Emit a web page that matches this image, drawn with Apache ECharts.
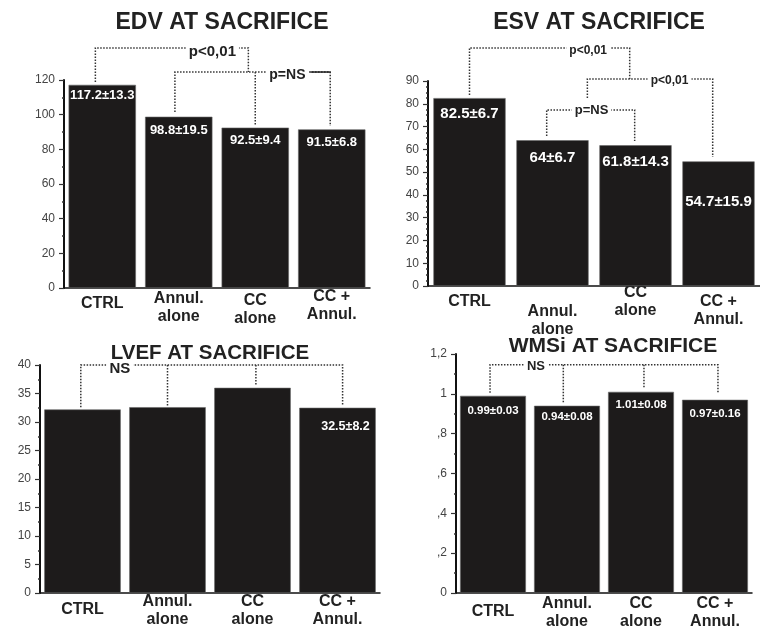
<!DOCTYPE html>
<html>
<head>
<meta charset="utf-8">
<script src="https://cdn.jsdelivr.net/npm/echarts@6/dist/echarts.min.js"></script>
<style>
html, body { margin: 0; padding: 0; background: #fff; }
#main { width: 760px; height: 635px; }
</style>
</head>
<body>
<div id="main"></div>
<script>
// groups, same order in every panel
var categories = ['CTRL', 'Annul.\nalone', 'CC\nalone', 'CC +\nAnnul.'];

// EDV at sacrifice
var edvValues = [117.2, 98.8, 92.5, 91.5];
var edvLabels = ['117.2±13.3', '98.8±19.5', '92.5±9.4', '91.5±6.8'];
// ESV at sacrifice
var esvValues = [82.5, 64, 61.8, 54.7];
var esvLabels = ['82.5±6.7', '64±6.7', '61.8±14.3', '54.7±15.9'];
// LVEF at sacrifice (only the last bar is labelled)
var lvefValues = [32.2, 32.6, 36.0, 32.5];
var lvefLabels = ['', '', '', '32.5±8.2'];
// WMSi at sacrifice
var wmsiValues = [0.99, 0.94, 1.01, 0.97];
var wmsiLabels = ['0.99±0.03', '0.94±0.08', '1.01±0.08', '0.97±0.16'];

var titles = ['EDV AT SACRIFICE', 'ESV AT SACRIFICE', 'LVEF AT SACRIFICE', 'WMSi AT SACRIFICE'];

// significance brackets, in (category position, value) of each panel
var brackets = [
	{grid: 0, paths: [[[-0.09, 118.8], [-0.09, 138.5], [1.91, 138.5], [1.91, 124.6]]], text: 'p<0,01', at: [1.44, 136.2], size: 15},
	{grid: 0, paths: [[[0.95, 101.6], [0.95, 124.6], [2.98, 124.6], [2.98, 93.5]], [[2.0, 124.6], [2.0, 93.5]]],
		text: 'p=NS', at: [2.42, 122.9], size: 14, solid: [[2.72, 124.6], [2.98, 124.6]]},
	{grid: 1, paths: [[[0, 83.8], [0, 104.5], [1.93, 104.5], [1.93, 90.9]]], text: 'p<0,01', at: [1.43, 103.2], size: 12},
	{grid: 1, paths: [[[1.42, 82.5], [1.42, 90.9], [2.93, 90.9], [2.93, 56.6]]], text: 'p<0,01', at: [2.41, 90.3], size: 12},
	{grid: 1, paths: [[[0.93, 65.8], [0.93, 77.3], [1.99, 77.3], [1.99, 63.7]]], text: 'p=NS', at: [1.47, 77], size: 13},
	{grid: 2, paths: [[[-0.02, 32.6], [-0.02, 40], [3.06, 40], [3.06, 32.8]], [[1.0, 40], [1.0, 32.8]], [[2.04, 40], [2.04, 36.3]]],
		text: 'NS', at: [0.44, 39.4], size: 15},
	{grid: 3, paths: [[[-0.04, 1.005], [-0.04, 1.146], [3.04, 1.146], [3.04, 1.005]], [[0.95, 1.146], [0.95, 0.955]], [[2.04, 1.146], [2.04, 1.03]]],
		text: 'NS', at: [0.58, 1.14], size: 13}
];

var FONT = '"Liberation Sans", Arial, Helvetica, sans-serif';

var chart = echarts.init(document.getElementById('main'));

function catData(pads) {
	return categories.map(function (c, i) {
		return {value: c, textStyle: {padding: [pads[i], 0, 0, 0]}};
	});
}

function xAxisCfg(gi, margin, pads) {
	return {
		gridIndex: gi, type: 'category', data: catData(pads),
		axisLine: {lineStyle: {color: '#111', width: 1.5}},
		axisTick: {show: false},
		axisLabel: {interval: 0, margin: margin, fontSize: 16, fontWeight: 'bold', color: '#222',
			lineHeight: 18, fontFamily: FONT}
	};
}

function yAxisCfg(gi, max, interval, minor, fmt) {
	return {
		gridIndex: gi, type: 'value', min: 0, max: max, interval: interval,
		axisLine: {show: true, lineStyle: {color: '#111', width: 2}},
		axisTick: {show: true, length: 5, lineStyle: {color: '#333', width: 1.2}},
		minorTick: {show: true, splitNumber: minor, length: 2, lineStyle: {color: '#333', width: 1.5}},
		splitLine: {show: false},
		axisLabel: {color: '#444', fontSize: 12, margin: 9, fontFamily: FONT, formatter: fmt}
	};
}

function barSeries(gi, values, labels, fontSize, dists, gap, offsets) {
	return {
		type: 'bar', xAxisIndex: gi, yAxisIndex: gi, barCategoryGap: gap,
		silent: true, animation: false,
		itemStyle: {color: '#1d1b1b', borderColor: '#666', borderWidth: 0.6},
		label: {show: true, position: 'insideTop', color: '#fff', fontWeight: 'bold',
			fontSize: fontSize, fontFamily: FONT},
		data: values.map(function (v, i) {
			return {value: v, label: {formatter: labels[i], distance: dists[i],
				offset: offsets ? offsets[i] : [0, 0]}};
		})
	};
}

var titlePos = [[217, 6, 23], [594, 6, 23], [205, 338, 20.5], [608, 331, 21]];

var option = {
	backgroundColor: '#fff',
	animation: false,
	title: titles.map(function (t, i) {
		return {text: t, left: titlePos[i][0], top: titlePos[i][1], textAlign: 'center',
			textStyle: {fontSize: titlePos[i][2], fontWeight: 'bold', color: '#222', fontFamily: FONT}};
	}),
	grid: [
		{left: 64, top: 80, width: 306, height: 208},
		{left: 428, top: 81, width: 344, height: 205},
		{left: 40, top: 365, width: 340, height: 228},
		{left: 456, top: 354, width: 296, height: 239}
	],
	xAxis: [
		xAxisCfg(0, 0, [6.5, 1.5, 3.5, 0]),
		xAxisCfg(1, -2, [8.5, 18.5, 0, 8.5]),
		xAxisCfg(2, 0, [8, 0, 0, 0]),
		xAxisCfg(3, 2, [8, 0, 0, 0])
	],
	yAxis: [
		yAxisCfg(0, 120, 20, 2),
		yAxisCfg(1, 90, 10, 4),
		yAxisCfg(2, 40, 5, 2),
		yAxisCfg(3, 1.2, 0.2, 2, function (v) {
			var t = Math.round(v * 10);
			if (t === 0) return '0';
			if (t === 10) return '1';
			if (t > 10) return '1,' + (t - 10);
			return ',' + t;
		})
	],
	series: [
		barSeries(0, edvValues, edvLabels, 13, [4, 7, 6, 7], '12%'),
		barSeries(1, esvValues, esvLabels, 15, [8, 10, 9, 33], '13%'),
		barSeries(2, lvefValues, lvefLabels, 12.5, [12, 12, 12, 12], '10%', [[0, 0], [0, 0], [0, 0], [8, 0]]),
		barSeries(3, wmsiValues, wmsiLabels, 11.5, [9, 5, 7, 8], '11%')
	]
};
chart.setOption(option);

// brackets are drawn after layout so they follow the axes
function toPx(gi, pos, val) {
	var x0 = chart.convertToPixel({xAxisIndex: gi}, 0);
	var x1 = chart.convertToPixel({xAxisIndex: gi}, 1);
	var y = chart.convertToPixel({yAxisIndex: gi}, val);
	return [x0 + pos * (x1 - x0), y];
}

var graphics = [];
brackets.forEach(function (b) {
	b.paths.forEach(function (p) {
		graphics.push({
			type: 'polyline', silent: true,
			shape: {points: p.map(function (pt) { return toPx(b.grid, pt[0], pt[1]); })},
			style: {stroke: '#333', lineWidth: 1.5, lineDash: [1.5, 1.5], fill: null}
		});
	});
});
brackets.forEach(function (b) {
	var c = toPx(b.grid, b.at[0], b.at[1]);
	graphics.push({
		type: 'text', silent: true, x: c[0], y: c[1],
		style: {text: b.text, fontSize: b.size, fontWeight: 'bold', fontFamily: FONT, fill: '#222',
			align: 'center', verticalAlign: 'middle', backgroundColor: '#fff', padding: [0, 3]}
	});
	if (b.solid) {
		graphics.push({
			type: 'polyline', silent: true,
			shape: {points: b.solid.map(function (pt) { return toPx(b.grid, pt[0], pt[1]); })},
			style: {stroke: '#222', lineWidth: 1.5, fill: null}
		});
	}
});
chart.setOption({graphic: graphics});
</script>
</body>
</html>
